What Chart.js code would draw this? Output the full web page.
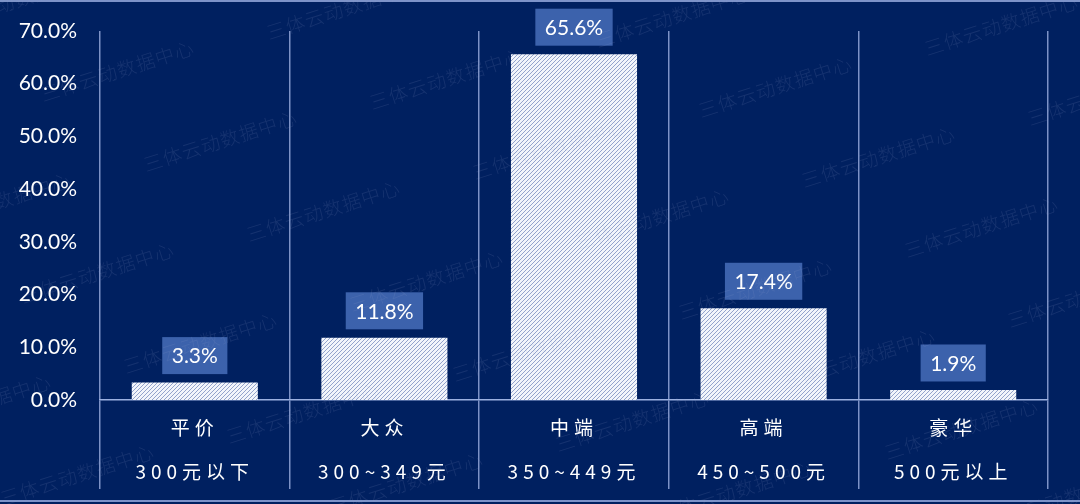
<!DOCTYPE html>
<html lang="zh-CN">
<head>
    <meta charset="UTF-8">
    <title>价格段分布</title>
    <script src="https://cdn.jsdelivr.net/npm/chart.js"></script>
    <style>
        body { margin: 0; padding: 0; background: #002060; }
        canvas { display: block; }
    </style>
</head>
<body>
    <canvas id="myChart" width="1080" height="504"></canvas>
    <script>
        // 数据
        const segNames = ['平价', '大众', '中端', '高端', '豪华'];
        const priceRanges = ['300元以下', '300~349元', '350~449元', '450~500元', '500元以上'];
        const shares = [3.3, 11.8, 65.6, 17.4, 1.9];
        const yTicksMax = 70;
        const yTicksStep = 10;
        const watermarkText = '三体云动数据中心';

        const labels = segNames.map((n, i) => [n, priceRanges[i]]);

        // 斜线填充
        function hatch() {
            const c = document.createElement('canvas');
            c.width = 4; c.height = 4;
            const g = c.getContext('2d');
            g.fillStyle = '#f2f5fb';
            g.fillRect(0, 0, 4, 4);
            g.strokeStyle = '#93a3cc';
            g.lineWidth = 1;
            g.beginPath();
            g.moveTo(0, 4); g.lineTo(4, 0);
            g.moveTo(-1, 1); g.lineTo(1, -1);
            g.moveTo(3, 5); g.lineTo(5, 3);
            g.stroke();
            return g.createPattern(c, 'repeat');
        }

        const fondo = {
            id: 'fondo',
            beforeDraw(chart) {
                const ctx = chart.ctx;
                ctx.save();
                ctx.fillStyle = '#002060';
                ctx.fillRect(0, 0, chart.width, chart.height);
                ctx.fillStyle = '#7d93c9';
                ctx.fillRect(0, 0, chart.width, 2);
                ctx.fillRect(0, 500, chart.width, 2);
                ctx.restore();
                ctx.letterSpacing = '5px';
            },
            beforeDatasetsDraw(chart) {
                chart.ctx.letterSpacing = '0px';
            },
            afterDatasetsDraw(chart) {
                const ctx = chart.ctx;
                const meta = chart.getDatasetMeta(0);
                ctx.save();
                ctx.font = '21px Lato';
                ctx.textAlign = 'center';
                ctx.textBaseline = 'middle';
                meta.data.forEach((bar, i) => {
                    const txt = shares[i].toFixed(1) + '%';
                    const w = ctx.measureText(txt).width + 19;
                    const h = 37;
                    const bottom = bar.y - 8.5;
                    ctx.fillStyle = '#3c62ac';
                    ctx.fillRect(bar.x - w / 2, bottom - h, w, h);
                    ctx.fillStyle = '#ffffff';
                    ctx.fillText(txt, bar.x, bottom - h / 2 + 1);
                });
                ctx.restore();
            },
            afterDraw(chart) {
                const ctx = chart.ctx;
                ctx.save();
                ctx.letterSpacing = '1px';
                ctx.font = '300 19px "Noto Sans CJK SC"';
                ctx.fillStyle = 'rgba(150,166,208,0.14)';
                ctx.textBaseline = 'middle';
                for (let i = -8; i <= 8; i++) {
                    for (let j = -8; j <= 8; j++) {
                        const x = 473 + i * 103 + j * 226;
                        const y = 173 + i * 70 - j * 62;
                        if (x < -200 || x > 1100 || y < -20 || y > 540) continue;
                        ctx.save();
                        ctx.translate(x, y);
                        ctx.rotate(-17.5 * Math.PI / 180);
                        ctx.fillText(watermarkText, 0, 0);
                        ctx.restore();
                    }
                }
                ctx.restore();
            }
        };

        new Chart(document.getElementById('myChart'), {
            type: 'bar',
            data: {
                labels: labels,
                datasets: [{
                    data: shares,
                    backgroundColor: hatch(),
                    borderWidth: 0,
                    barPercentage: 0.665,
                    categoryPercentage: 1
                }]
            },
            options: {
                responsive: false,
                animation: false,
                layout: { padding: { top: 31, right: 32, left: 0, bottom: 0 } },
                plugins: { legend: { display: false }, tooltip: { enabled: false } },
                scales: {
                    x: {
                        afterFit: s => { s.height = 104; },
                        grid: { color: '#7d92c6', lineWidth: 1.5, tickLength: 89, offset: true },
                        border: { color: '#9bb0e0', width: 1.5 },
                        ticks: {
                            color: '#ffffff',
                            font: { family: '"Noto Sans CJK SC"', size: 19, lineHeight: 44 / 19 },
                            padding: -83,
                            autoSkip: false,
                            maxRotation: 0
                        }
                    },
                    y: {
                        min: 0,
                        max: yTicksMax,
                        afterFit: s => { s.width = 100; },
                        grid: { display: false, drawTicks: false },
                        border: { display: false },
                        ticks: {
                            z: 1,
                            stepSize: yTicksStep,
                            color: '#ffffff',
                            padding: 23,
                            font: { family: 'Lato', size: 21, lineHeight: 0.4 },
                            callback: v => v.toFixed(1) + '%'
                        }
                    }
                }
            },
            plugins: [fondo]
        });
    </script>
</body>
</html>
